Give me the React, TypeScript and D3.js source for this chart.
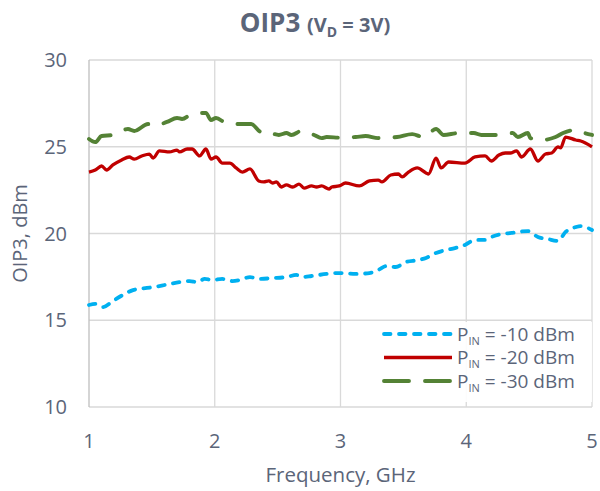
import React, { useEffect, useRef } from 'react'
import * as d3 from 'd3'

// OIP3 vs frequency
const freq10 = [1.00, 1.05, 1.11, 1.19, 1.27, 1.35, 1.46, 1.56, 1.64, 1.72, 1.80, 1.86, 1.92, 1.98, 2.06, 2.14, 2.20, 2.28, 2.35, 2.46, 2.57, 2.65, 2.70, 2.77, 2.89, 2.99, 3.12, 3.23, 3.30, 3.37, 3.44, 3.52, 3.62, 3.68, 3.76, 3.84, 3.91, 3.99, 4.07, 4.15, 4.20, 4.28, 4.36, 4.49, 4.57, 4.65, 4.73, 4.79, 4.87, 4.91, 5.00]
const oip3_10 = [15.88, 15.94, 15.76, 16.11, 16.46, 16.74, 16.86, 16.97, 17.09, 17.20, 17.26, 17.20, 17.38, 17.32, 17.38, 17.26, 17.32, 17.49, 17.38, 17.43, 17.49, 17.61, 17.49, 17.55, 17.67, 17.72, 17.67, 17.72, 17.90, 18.13, 18.07, 18.36, 18.47, 18.59, 18.88, 19.05, 19.16, 19.34, 19.63, 19.63, 19.80, 19.97, 20.03, 20.14, 19.80, 19.68, 19.57, 20.09, 20.37, 20.43, 20.20]

const freq20 = [1.00, 1.05, 1.10, 1.14, 1.19, 1.26, 1.32, 1.36, 1.42, 1.48, 1.51, 1.56, 1.64, 1.70, 1.72, 1.78, 1.82, 1.88, 1.93, 1.97, 2.01, 2.06, 2.12, 2.17, 2.22, 2.28, 2.35, 2.39, 2.43, 2.46, 2.49, 2.53, 2.57, 2.62, 2.67, 2.71, 2.77, 2.81, 2.85, 2.91, 2.93, 2.99, 3.04, 3.15, 3.23, 3.30, 3.33, 3.40, 3.46, 3.49, 3.54, 3.61, 3.68, 3.70, 3.76, 3.80, 3.86, 3.99, 4.07, 4.15, 4.20, 4.26, 4.31, 4.35, 4.40, 4.44, 4.51, 4.57, 4.63, 4.68, 4.73, 4.75, 4.79, 4.87, 4.91, 5.00]
const oip3_20 = [23.54, 23.66, 23.89, 23.66, 23.95, 24.24, 24.41, 24.29, 24.47, 24.58, 24.35, 24.76, 24.70, 24.81, 24.70, 24.87, 24.87, 24.47, 24.87, 24.29, 24.41, 24.06, 24.06, 23.78, 23.54, 23.72, 23.03, 22.97, 23.03, 22.91, 22.97, 22.68, 22.80, 22.68, 22.85, 22.62, 22.74, 22.68, 22.74, 22.56, 22.68, 22.74, 22.91, 22.74, 23.03, 23.08, 22.97, 23.37, 23.43, 23.26, 23.54, 23.78, 23.49, 23.43, 24.35, 23.78, 24.12, 24.06, 24.41, 24.47, 24.18, 24.52, 24.64, 24.64, 24.76, 24.41, 24.87, 24.18, 24.58, 24.64, 24.99, 24.93, 25.56, 25.39, 25.33, 24.99]

const freq30 = [1.00, 1.05, 1.10, 1.19, 1.31, 1.36, 1.47, 1.51, 1.62, 1.70, 1.74, 1.82, 1.93, 1.97, 2.01, 2.09, 2.20, 2.29, 2.37, 2.39, 2.51, 2.57, 2.61, 2.69, 2.79, 2.85, 2.89, 3.00, 3.12, 3.20, 3.30, 3.45, 3.57, 3.66, 3.76, 3.82, 3.94, 4.06, 4.12, 4.23, 4.37, 4.41, 4.49, 4.51, 4.60, 4.71, 4.77, 4.87, 4.94, 5.00]
const oip3_30 = [25.45, 25.27, 25.62, 25.68, 26.02, 25.91, 26.31, 26.20, 26.43, 26.66, 26.60, 26.89, 26.95, 26.54, 26.66, 26.37, 26.31, 26.31, 25.85, 25.91, 25.68, 25.79, 25.68, 25.91, 25.68, 25.50, 25.56, 25.52, 25.56, 25.62, 25.50, 25.56, 25.73, 25.56, 26.02, 25.68, 25.79, 25.79, 25.68, 25.68, 25.79, 25.56, 25.79, 25.50, 25.39, 25.56, 25.79, 25.97, 25.79, 25.68]

const xTicks = [1, 2, 3, 4, 5]
const yTicks = [10, 15, 20, 25, 30]
const seriesNames = ['-10 dBm', '-20 dBm', '-30 dBm']
const seriesColors = ['#00b0f0', '#c00000', '#548235']
const seriesDash = ['6.5 8.5', null, '25 16']
const seriesWidth = [3.8, 3.3, 3.9]

const textColor = '#5b6579'
const font = '"Open Sans", "Noto Sans", sans-serif'

export default function App() {
    const ref = useRef<SVGSVGElement>(null)

    useEffect(() => {
        const svg = d3.select(ref.current)
        svg.selectAll('*').remove()

        const margin = { top: 60, left: 89, right: 8, bottom: 84 }
        const width = 600
        const height = 491
        const plotW = width - margin.left - margin.right
        const plotH = height - margin.top - margin.bottom

        const x = d3.scaleLinear().domain([1, 5]).range([0, plotW])
        const y = d3.scaleLinear().domain([10, 30]).range([plotH, 0])

        const g = svg.append('g').attr('transform', `translate(${margin.left},${margin.top})`)

        // gridlines
        g.selectAll('.hgrid').data(yTicks).enter().append('line')
            .attr('x1', 0).attr('x2', plotW)
            .attr('y1', d => y(d)).attr('y2', d => y(d))
            .attr('stroke', '#d9d9d9').attr('stroke-width', 1.3)
        g.selectAll('.vgrid').data(xTicks).enter().append('line')
            .attr('y1', 0).attr('y2', plotH)
            .attr('x1', d => x(d)).attr('x2', d => x(d))
            .attr('stroke', d => d === 1 ? '#bfbfbf' : '#d9d9d9').attr('stroke-width', 1.3)

        // tick labels
        g.selectAll('.ylab').data(yTicks).enter().append('text')
            .attr('x', -22).attr('y', d => y(d)).attr('dy', '0.36em')
            .attr('text-anchor', 'end')
            .style('font-family', font).style('font-size', '20px').attr('fill', textColor)
            .text(d => d)
        g.selectAll('.xlab').data(xTicks).enter().append('text')
            .attr('x', d => x(d)).attr('y', plotH + 41)
            .attr('text-anchor', 'middle')
            .style('font-family', font).style('font-size', '20px').attr('fill', textColor)
            .text(d => d)

        // axis titles
        svg.append('text')
            .attr('transform', `translate(27,${margin.top + plotH / 2}) rotate(-90)`)
            .attr('text-anchor', 'middle')
            .style('font-family', font).style('font-size', '20px').attr('fill', textColor)
            .text('OIP3, dBm')
        svg.append('text')
            .attr('x', margin.left + plotW / 2).attr('y', 482)
            .attr('text-anchor', 'middle')
            .style('font-family', font).style('font-size', '20.5px').attr('fill', textColor)
            .text('Frequency, GHz')

        // title
        const title = svg.append('text')
            .attr('x', 315).attr('y', 32)
            .attr('text-anchor', 'middle')
            .style('font-family', font).style('font-weight', 'bold').attr('fill', textColor)
        title.append('tspan').style('font-size', '26px').text('OIP3 ')
        title.append('tspan').style('font-size', '20px').text('(V')
        title.append('tspan').style('font-size', '14px').attr('dy', 5).text('D')
        title.append('tspan').style('font-size', '20px').attr('dy', -5).text(' = 3V)')

        // lines
        const data = [
            freq10.map((f, i) => [f, oip3_10[i]]),
            freq20.map((f, i) => [f, oip3_20[i]]),
            freq30.map((f, i) => [f, oip3_30[i]]),
        ]
        const lineGen = d3.line<number[]>()
            .x(d => x(d[0]))
            .y(d => y(d[1]))
            .curve(d3.curveMonotoneX)

        // draw -20 first, then -30, then -10 on top
        const order = [1, 2, 0]
        order.forEach(i => {
            g.append('path')
                .datum(data[i])
                .attr('fill', 'none')
                .attr('stroke', seriesColors[i])
                .attr('stroke-width', seriesWidth[i])
                .attr('stroke-linecap', seriesDash[i] ? 'round' : 'butt')
                .attr('stroke-linejoin', 'round')
                .attr('stroke-dasharray', seriesDash[i])
                .attr('d', lineGen)
        })

        // legend
        const legend = svg.append('g').attr('transform', 'translate(375,322)')
        legend.append('rect')
            .attr('width', 217).attr('height', 80)
            .attr('fill', 'white').attr('opacity', 0.9)
        seriesNames.forEach((name, i) => {
            const ly = 12 + i * 23.5
            legend.append('line')
                .attr('x1', 9).attr('x2', 77)
                .attr('y1', ly).attr('y2', ly)
                .attr('stroke', seriesColors[i])
                .attr('stroke-width', seriesWidth[i])
                .attr('stroke-linecap', seriesDash[i] ? 'round' : 'butt')
                .attr('stroke-dasharray', seriesDash[i])
            const t = legend.append('text')
                .attr('x', 82).attr('y', ly).attr('dy', '0.36em')
                .style('font-family', font).style('font-size', '19px').attr('fill', textColor)
            t.append('tspan').text('P')
            t.append('tspan').style('font-size', '11px').attr('dy', 4).text('IN')
            t.append('tspan').attr('dy', -4).text(' = ' + name)
        })
    }, [])

    return (
        <div style={{ position: 'absolute', left: 0, top: 0, width: 600, height: 491 }}>
            <svg ref={ref} width={600} height={491} style={{ display: 'block', background: 'white' }} />
        </div>
    )
}
